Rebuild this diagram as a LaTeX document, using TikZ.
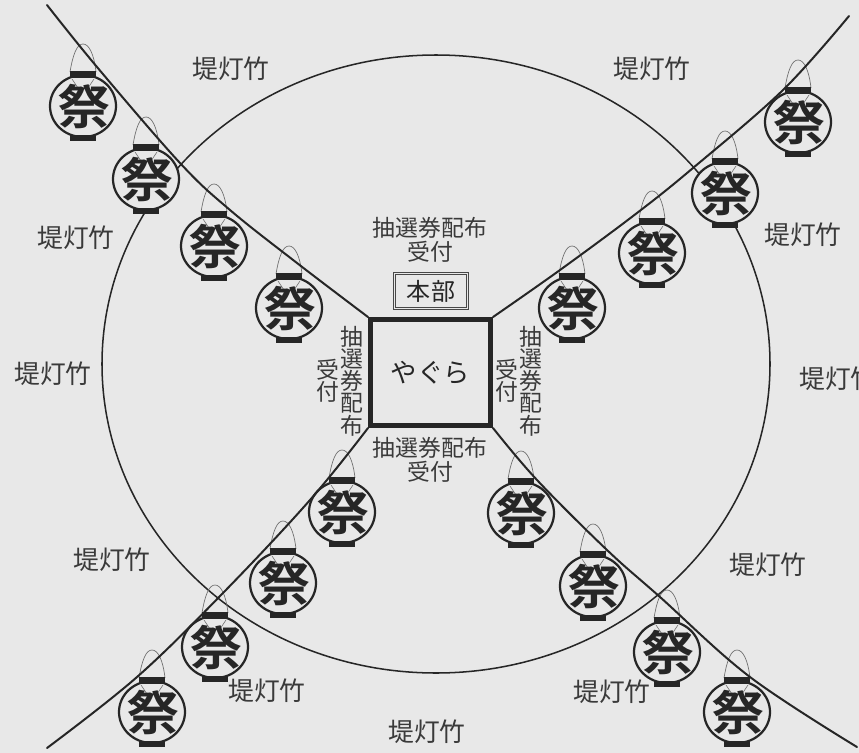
\documentclass[tikz,border=0pt]{standalone}
\usepackage{fontspec}
\setmainfont{Noto Sans CJK JP}
\newfontfamily\matsuri{Noto Sans CJK JP}[BoldFont={Noto Sans CJK JP Bold}]
\definecolor{bgc}{HTML}{E8E8E8}
\definecolor{ink}{HTML}{262626}
\definecolor{txt}{HTML}{3A3A3A}
\tikzset{
  x=0.03cm,y=-0.03cm,
  lbl/.style={font=\fontsize{22}{23}\selectfont,text=txt,inner sep=0pt,align=center},
  sublbl/.style={font=\fontsize{19.5}{20.5}\selectfont,text=txt,inner sep=0pt,align=center},
  vertlbl/.style={font=\fontsize{19.5}{19}\selectfont,text=txt,inner sep=0pt,align=center},
  spoke/.style={draw=ink,line width=1.7pt,line cap=round},
  ring/.style={draw=ink,line width=1.3pt},
}
\newcommand{\lantern}[3]{%
  \begin{scope}[shift={(#2,#3)}]
    \draw[draw=ink!65,line width=0.6pt] (-13,-34) .. controls (-10,-52) and (-6,-62) .. (0,-62)
       .. controls (6,-62) and (11,-52) .. (13,-34);
    \draw[draw=ink,line width=1.9pt,fill=bgc] (0,0) ellipse [x radius=33,y radius=31];
    \draw[draw=ink!65,line width=0.5pt] (-11,-27) -- (-5,-18) (11,-27) -- (5,-18);
    \fill[ink] (-13,-35) rectangle (13,-28);
    \fill[ink] (-13,29) rectangle (13,35);
    \node[font=\matsuri\bfseries\fontsize{44}{44}\selectfont,text=ink,inner sep=0pt,yscale=0.92,transform shape] (#1) at (1,1) {祭};
  \end{scope}}
\begin{document}
\begin{tikzpicture}
\path[use as bounding box,fill=bgc] (0,0) rectangle (859,753);
\draw[ring] (436,364) ellipse [x radius=334,y radius=309];
\node[draw=ink,line width=3.9pt,minimum width=3.61cm,minimum height=3.19cm,inner sep=0pt,anchor=center,font=\fontsize{22.5}{25}\selectfont,text=ink] (yagura) at (430.5,372.5) {やぐら};
\node[draw=ink!85,double=bgc,double distance=1.6pt,line width=0.9pt,minimum width=2.19cm,minimum height=1.05cm,inner sep=0pt,font=\fontsize{20.5}{22}\selectfont,text=ink] (honbu) at (431,291) {本部};
\lantern{a1}{83}{106}\lantern{a2}{146}{179}\lantern{a3}{214}{246}\lantern{a4}{289}{308}
\lantern{b1}{798}{122}\lantern{b2}{725}{193}\lantern{b3}{652}{253}\lantern{b4}{572}{308}
\lantern{c1}{342}{512}\lantern{c2}{283}{583}\lantern{c3}{215}{647}\lantern{c4}{152}{712}
\lantern{d1}{521}{513}\lantern{d2}{593}{586}\lantern{d3}{667}{652}\lantern{d4}{737}{712}
\coordinate (endA) at (47,5);
\coordinate (endB) at (849,16);
\coordinate (endC) at (47,748);
\coordinate (endD) at (857,747);
\draw[spoke] plot[smooth,tension=0.6] coordinates {(yagura.north west) (297,263) (230,210) (180,163) (97,67) (endA)};
\draw[spoke] plot[smooth,tension=0.6] coordinates {(yagura.north east) (560,270) (637,213) (693,168) (783,90) (endB)};
\draw[spoke] plot[smooth,tension=0.6] coordinates {(yagura.south west) (310,500) (223,593) (137,677) (endC)};
\draw[spoke] plot[smooth,tension=0.6] coordinates {(yagura.south east) (537,480) (607,550) (660,597) (750,677) (endD)};
\node[lbl] (t1) at (231,69) {堤灯竹};
\node[lbl] (t2) at (652,69) {堤灯竹};
\node[lbl] (t3) at (76,238) {堤灯竹};
\node[lbl] (t4) at (803,235) {堤灯竹};
\node[lbl] (t5) at (53,374) {堤灯竹};
\node[lbl,anchor=west] (t6) at (799,379) {堤灯竹};
\node[lbl] (t7) at (112,560) {堤灯竹};
\node[lbl] (t8) at (768,565) {堤灯竹};
\node[lbl] (t9) at (267,691) {堤灯竹};
\node[lbl] (t10) at (612,692) {堤灯竹};
\node[lbl] (t11) at (427,732) {堤灯竹};
\node[sublbl] (top) at (430,240) {抽選券配布\\受付};
\node[sublbl] (bot) at (430,460) {抽選券配布\\受付};
\node[vertlbl] (l1) at (352,381) {抽\\選\\券\\配\\布};
\node[vertlbl] (l2) at (328,381) {受\\付};
\node[vertlbl] (r1) at (531,381) {抽\\選\\券\\配\\布};
\node[vertlbl] (r2) at (507,381) {受\\付};
\end{tikzpicture}
\end{document}
